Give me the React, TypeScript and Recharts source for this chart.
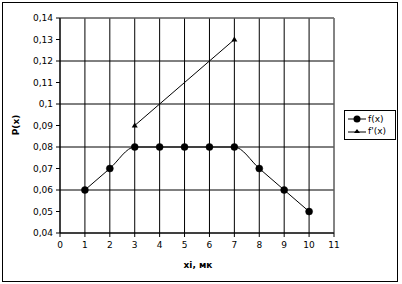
import { LineChart, Line, XAxis, YAxis, CartesianGrid, ReferenceLine } from 'recharts';

const xs = [1, 2, 3, 4, 5, 6, 7, 8, 9, 10];
const fValues = [0.06, 0.07, 0.08, 0.08, 0.08, 0.08, 0.08, 0.07, 0.06, 0.05];
const dX = [3, 7];
const dValues = [0.09, 0.13];
const xTicks = [0, 1, 2, 3, 4, 5, 6, 7, 8, 9, 10, 11];
const yTicks = [0.04, 0.05, 0.06, 0.07, 0.08, 0.09, 0.1, 0.11, 0.12, 0.13, 0.14];

const fData = xs.map((x, i) => ({ x, f: fValues[i] }));
const dData = dX.map((x, i) => ({ x, d: dValues[i] }));

const font = 'DejaVu Sans, Verdana, sans-serif';

function Triangle(props: any) {
  const { cx, cy } = props;
  if (cx == null || cy == null) return null;
  return <path d={`M${cx},${cy - 3}L${cx + 3},${cy + 2}L${cx - 3},${cy + 2}Z`} fill='#000' />;
}

function LegendBox() {
  return (
    <div
      style={{
        position: 'absolute',
        left: 344,
        top: 110,
        border: '1px solid #000',
        background: '#fff',
        width: 52,
        height: 30,
        fontFamily: font,
        fontSize: 9,
        boxSizing: 'border-box',
        padding: '2px 0 0 3px',
      }}
    >
      <div style={{ display: 'flex', alignItems: 'center', height: 12 }}>
        <svg width={18} height={10}>
          <line x1={0} y1={5} x2={18} y2={5} stroke='#000' />
          <circle cx={9} cy={5} r={3.5} fill='#000' />
        </svg>
        <span style={{ marginLeft: 2 }}>f(x)</span>
      </div>
      <div style={{ display: 'flex', alignItems: 'center', height: 12 }}>
        <svg width={18} height={10}>
          <line x1={0} y1={6} x2={18} y2={6} stroke='#000' />
          <path d='M9,3L12,7L6,7Z' fill='#000' />
        </svg>
        <span style={{ marginLeft: 2 }}>f'(x)</span>
      </div>
    </div>
  );
}

export default function App() {
  return (
    <div style={{ position: 'absolute', left: 0, top: 0, width: 402, height: 284, background: '#fff' }}>
      <div
        style={{
          position: 'absolute',
          left: 2,
          top: 2,
          width: 396,
          height: 280,
          border: '1px solid #000',
          boxSizing: 'border-box',
        }}
      />
      <div style={{ position: 'absolute', left: 0, top: 0 }}>
        <LineChart width={402} height={284} margin={{ top: 18, right: 68, bottom: 26, left: 20 }}>
          <CartesianGrid stroke='#000' strokeWidth={1} />
          <XAxis
            dataKey='x'
            type='number'
            domain={[0, 11]}
            ticks={xTicks}
            height={25}
            stroke='#000'
            tickSize={4}
            tickMargin={5}
            tick={{ fill: '#000', fontSize: 9, fontFamily: font }}
            label={{
              content: () => (
                <text x={198} y={268} textAnchor='middle' fontFamily={font} fontSize={9} fontWeight='bold' fill='#000'>
                  xi, мк
                </text>
              ),
            }}
            allowDuplicatedCategory={false}
          />
          <YAxis
            type='number'
            domain={[0.04, 0.14]}
            ticks={yTicks}
            width={40}
            stroke='#000'
            tickSize={4}
            tickMargin={3}
            tick={{ fill: '#000', fontSize: 9, fontFamily: font }}
            tickFormatter={(v: number) => String(Math.round(v * 100) / 100).replace('.', ',')}
            label={{
              content: () => (
                <text
                  x={19}
                  y={125}
                  transform='rotate(-90 19 125)'
                  textAnchor='middle'
                  fontFamily={font}
                  fontSize={9}
                  fontWeight='bold'
                  fill='#000'
                >
                  P(x)
                </text>
              ),
            }}
          />
          <ReferenceLine y={0.14} stroke='#888' />
          <ReferenceLine x={11} stroke='#888' />
          <Line
            data={fData}
            dataKey='f'
            type='monotone'
            stroke='#000'
            strokeWidth={1}
            dot={{ r: 3.5, fill: '#000', stroke: '#000', strokeWidth: 0.5 }}
            isAnimationActive={false}
          />
          <Line
            data={dData}
            dataKey='d'
            type='linear'
            stroke='#000'
            strokeWidth={1}
            dot={<Triangle />}
            isAnimationActive={false}
          />
        </LineChart>
      </div>
      <LegendBox />
    </div>
  );
}
